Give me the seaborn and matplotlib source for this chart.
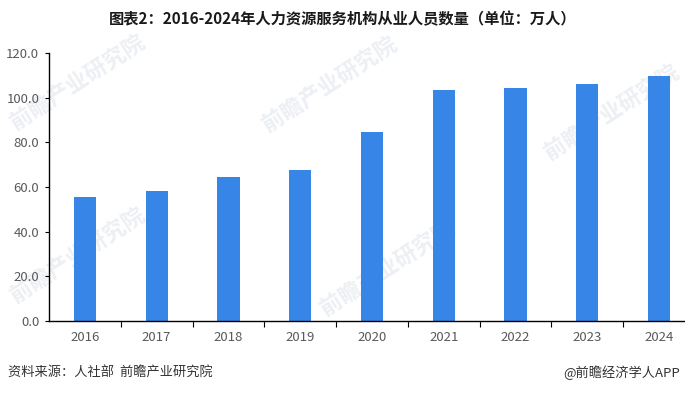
import matplotlib
matplotlib.use("Agg")
import matplotlib.pyplot as plt
import seaborn as sns
import pandas as pd

years = ["2016", "2017", "2018", "2019", "2020", "2021", "2022", "2023", "2024"]
values = [55.3, 58.4, 64.3, 67.5, 84.5, 103.3, 104.2, 106.0, 109.6]
yticks = [0, 20, 40, 60, 80, 100, 120]

title = "图表2：2016-2024年人力资源服务机构从业人员数量（单位：万人）"
source = "资料来源：人社部  前瞻产业研究院"
brand = "@前瞻经济学人APP"
watermark = "前瞻产业研究院"

sns.set_theme(style="white")
plt.rcParams["font.family"] = ["Noto Sans CJK SC", "DejaVu Sans"]

df = pd.DataFrame({"year": years, "value": values})

fig = plt.figure(figsize=(6.85, 3.94), dpi=100)
ax = fig.add_axes([49/685, 1 - 321/394, (695 - 49)/685, (321 - 53)/394])
ax.set_facecolor("none")

# faint background watermarks
for (wx, wy) in [(78, 82), (330, 84), (612, 112), (78, 255), (388, 268)]:
    fig.text(wx/685, 1 - wy/394, watermark, ha="center", va="center",
             rotation=33, fontsize=16, fontweight="bold", color="#ECEFF3",
             zorder=-5)

sns.barplot(data=df, x="year", y="value", color="#3785E6", width=0.31,
            saturation=1, linewidth=0, ax=ax)

ax.set_ylim(0, 120)
ax.set_xlim(-0.5, 8.5)
ax.set_yticks(yticks)
ax.set_yticklabels([f"{v:.1f}" for v in yticks], fontsize=9.5, color="#595959")
ax.set_xlabel("")
ax.set_ylabel("")
ax.tick_params(axis="x", length=0, labelsize=9.5, labelcolor="#595959", pad=7)
ax.tick_params(axis="y", left=True, length=3, width=0.8, color="black", pad=4)
# category boundary ticks
ax.set_xticks([i + 0.5 for i in range(len(years) - 1)], minor=True)
ax.tick_params(axis="x", which="minor", bottom=True, length=4, width=0.8, color="black")

for s in ["top", "right"]:
    ax.spines[s].set_visible(False)
for s in ["left", "bottom"]:
    ax.spines[s].set_color("black")
    ax.spines[s].set_linewidth(1.0)
ax.grid(False)

fig.text(343/685, 1 - 19/394, title, ha="center", va="center",
         fontsize=11, fontweight="bold", color="#1a1a1a")
fig.text(8/685, 1 - 373/394, source, ha="left", va="center",
         fontsize=9.5, color="#333333")
fig.text(680/685, 1 - 373/394, brand, ha="right", va="center",
         fontsize=9.5, color="#333333")

fig.savefig("out.png", dpi=100)
